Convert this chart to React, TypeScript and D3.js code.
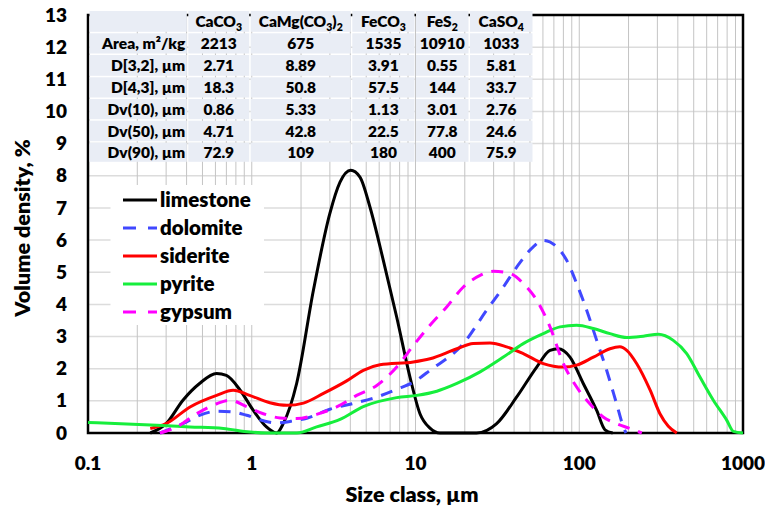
import React from "react";
import * as d3 from "d3";

// ---------- data ----------
const limestoneX = [0.24, 0.3, 0.38, 0.48, 0.61, 0.7, 0.85, 1.02, 1.23, 1.42, 1.56, 1.88, 2.38, 3.0, 3.46, 4.02, 4.58, 5.27, 6.36, 7.68, 9.25, 10.65, 12.26, 14.1, 23.6, 31.3, 41.5, 55, 66.3, 74.5, 87.8, 105.8, 127.8, 143.6, 160];
const limestoneY = [0, 0.29, 1.02, 1.54, 1.85, 1.79, 1.33, 0.71, 0.19, 0, 0.3, 1.54, 4.44, 6.83, 7.8, 8.17, 7.96, 7.03, 5.37, 3.6, 1.74, 0.6, 0.15, 0, 0, 0.29, 1.12, 2.05, 2.57, 2.62, 2.36, 1.54, 0.7, 0.1, 0];

const dolomiteX = [0.275, 0.38, 0.48, 0.62, 0.78, 0.93, 1.18, 1.42, 1.71, 2.17, 3.0, 4.17, 5.8, 7.68, 10.0, 12.26, 19.6, 27.2, 34.4, 41.5, 52.4, 60.3, 72.8, 83.8, 96.4, 111, 127.8, 147, 169, 186, 193];
const dolomiteY = [0, 0.29, 0.55, 0.68, 0.65, 0.55, 0.38, 0.31, 0.36, 0.46, 0.74, 0.92, 1.12, 1.36, 1.62, 1.95, 2.78, 3.82, 4.54, 5.16, 5.79, 5.99, 5.79, 5.37, 4.65, 3.82, 2.88, 1.95, 0.91, 0.19, 0];

const sideriteX = [0.24, 0.3, 0.42, 0.61, 0.77, 0.97, 1.29, 1.64, 2.07, 2.74, 3.8, 4.8, 6.07, 9.7, 12.26, 17.9, 22.5, 28.5, 36, 45.5, 60.3, 80, 96.4, 122, 154, 177, 195, 224, 271, 311, 350, 394];
const sideriteY = [0.14, 0.29, 0.81, 1.17, 1.33, 1.17, 0.94, 0.86, 0.93, 1.23, 1.62, 1.95, 2.12, 2.21, 2.31, 2.62, 2.78, 2.8, 2.68, 2.47, 2.16, 2.05, 2.11, 2.36, 2.62, 2.68, 2.57, 2.16, 1.33, 0.6, 0.21, 0];

const pyriteX = [0.1, 0.263, 0.42, 0.67, 0.975, 1.23, 1.88, 2.49, 3.46, 4.8, 7.68, 10.2, 13.5, 17.9, 24.8, 34.4, 45.5, 60.3, 76.3, 96.4, 122, 154, 195, 246, 304, 375, 453, 546, 659, 795, 873, 1000];
const pyriteY = [0.33, 0.24, 0.19, 0.14, 0.03, 0, 0, 0.19, 0.42, 0.82, 1.1, 1.17, 1.3, 1.54, 1.9, 2.36, 2.78, 3.09, 3.3, 3.35, 3.25, 3.09, 2.97, 3.01, 3.07, 2.88, 2.47, 1.74, 1.02, 0.4, 0.05, 0];

const gypsumX = [0.275, 0.348, 0.461, 0.611, 0.736, 0.931, 1.176, 1.488, 1.88, 2.49, 3.3, 4.37, 5.8, 7.68, 9.7, 12.26, 15.5, 19.6, 24.8, 29.9, 37.8, 45.5, 55, 66.3, 80, 96.4, 116, 140, 169, 204, 241];
const gypsumY = [0, 0.19, 0.6, 0.91, 1.02, 0.82, 0.6, 0.47, 0.45, 0.58, 0.81, 1.17, 1.48, 2.05, 2.72, 3.35, 3.92, 4.54, 4.9, 5.03, 4.96, 4.65, 4.13, 3.3, 2.16, 1.43, 0.91, 0.5, 0.29, 0.14, 0];

const seriesNames = ["limestone", "dolomite", "siderite", "pyrite", "gypsum"];

const xTickValues = [0.1, 1, 10, 100, 1000];
const xTickLabels = ["0.1", "1", "10", "100", "1000"];
const yTickValues = [0, 1, 2, 3, 4, 5, 6, 7, 8, 9, 10, 11, 12, 13];

// table
const tableHeaders: [string, string][][] = [
  [["CaCO", ""], ["3", "sub"]],
  [["CaMg(CO", ""], ["3", "sub"], [")", ""], ["2", "sub"]],
  [["FeCO", ""], ["3", "sub"]],
  [["FeS", ""], ["2", "sub"]],
  [["CaSO", ""], ["4", "sub"]],
];
const tableRowLabels = ["Area, m²/kg", "D[3,2], µm", "D[4,3], µm", "Dv(10), µm", "Dv(50), µm", "Dv(90), µm"];
const caco3Values = ["2213", "2.71", "18.3", "0.86", "4.71", "72.9"];
const camgValues = ["675", "8.89", "50.8", "5.33", "42.8", "109"];
const feco3Values = ["1535", "3.91", "57.5", "1.13", "22.5", "180"];
const fes2Values = ["10910", "0.55", "144", "3.01", "77.8", "400"];
const caso4Values = ["1033", "5.81", "33.7", "2.76", "24.6", "75.9"];

// ---------- layout ----------
const W = 765, H = 508;
const L = 88, R = 743, T = 15, B = 433;
const FONT = "Lato, Carlito, Calibri, 'Open Sans', sans-serif";
const WEIGHT = 800;

const colW = [89.5, 188.3, 250.7, 352.3, 416, 470, 534];
const rowH = [11, 33.3, 55, 77.3, 99, 120.7, 142.7, 163.3];

export default function App() {
  const x = d3.scaleLog().domain([0.1, 1000]).range([L, R]);
  const y = d3.scaleLinear().domain([0, 13]).range([B, T]);

  const series = [
    { name: seriesNames[0], xs: limestoneX, ys: limestoneY, color: "#000000", dash: "" },
    { name: seriesNames[1], xs: dolomiteX, ys: dolomiteY, color: "#4048ff", dash: "12,9" },
    { name: seriesNames[2], xs: sideriteX, ys: sideriteY, color: "#ff0000", dash: "" },
    { name: seriesNames[3], xs: pyriteX, ys: pyriteY, color: "#16ee3c", dash: "" },
    { name: seriesNames[4], xs: gypsumX, ys: gypsumY, color: "#ff00ff", dash: "12,9" },
  ];

  const line = d3
    .line<[number, number]>()
    .x((d) => x(d[0]))
    .y((d) => y(d[1]))
    .curve(d3.curveMonotoneX);

  const minor: number[] = [];
  for (let e = -1; e <= 2; e++) {
    for (let m = 1; m <= 9; m++) {
      const v = m * Math.pow(10, e);
      if (v > 0.1 && v < 1000) minor.push(v);
    }
  }

  const columns = [caco3Values, camgValues, feco3Values, fes2Values, caso4Values];

  return (
    <svg
      width={W}
      height={H}
      style={{ position: "absolute", left: 0, top: 0, background: "#fff" }}
      fontFamily={FONT}
      fontWeight={WEIGHT}
    >
      <rect x={0} y={0} width={W} height={H} fill="#fff" />
      {/* grid */}
      {yTickValues.slice(1, -1).map((v) => (
        <line key={"h" + v} x1={L} x2={R} y1={y(v)} y2={y(v)} stroke="#dcdcdc" strokeWidth={1.5} />
      ))}
      {minor.map((v) => (
        <line key={"v" + v} x1={x(v)} x2={x(v)} y1={T} y2={B} stroke="#c4c4c4" strokeWidth={1} />
      ))}
      {/* frame */}
      <rect x={L} y={T} width={R - L} height={B - T} fill="none" stroke="#000" strokeWidth={2.5} />

      {/* table */}
      {colW.slice(0, -1).map((cx, ci) =>
        rowH.slice(0, -1).map((ry, ri) => (
          <rect
            key={`c${ci}-${ri}`}
            x={cx}
            y={ry}
            width={colW[ci + 1] - cx - 1.5}
            height={rowH[ri + 1] - ry - 1.5}
            fill="#e9edf5"
          />
        ))
      )}
      {tableHeaders.map((parts, ci) => (
        <text
          key={"hd" + ci}
          x={(colW[ci + 1] + colW[ci + 2] - 1.5) / 2}
          y={(rowH[0] + rowH[1]) / 2 + 5}
          textAnchor="middle"
          fontSize={15.5}
          fill="#000"
        >
          {parts.map(([t, k], pi) =>
            k === "sub" ? (
              <tspan key={pi} fontSize={10.5} dy={4}>
                {t}
              </tspan>
            ) : (
              <tspan key={pi} dy={pi > 0 && parts[pi - 1][1] === "sub" ? -4 : 0}>
                {t}
              </tspan>
            )
          )}
        </text>
      ))}
      {tableRowLabels.map((lab, ri) => (
        <text
          key={"rl" + ri}
          x={colW[1] - 3}
          y={(rowH[ri + 1] + rowH[ri + 2]) / 2 + 5}
          textAnchor="end"
          fontSize={15.5}
          fill="#000"
        >
          {lab}
        </text>
      ))}
      {columns.map((vals, ci) =>
        vals.map((v, ri) => (
          <text
            key={`tv${ci}-${ri}`}
            x={(colW[ci + 1] + colW[ci + 2] - 1.5) / 2}
            y={(rowH[ri + 1] + rowH[ri + 2]) / 2 + 5}
            textAnchor="middle"
            fontSize={15.5}
            fill="#000"
          >
            {v}
          </text>
        ))
      )}

      {/* legend */}
      <rect x={110.5} y={185} width={153.5} height={140} fill="#fff" />
      {series.map((s, i) => (
        <g key={"lg" + i} transform={`translate(0, ${200 + i * 28})`}>
          <line x1={123} x2={157} y1={0} y2={0} stroke={s.color} strokeWidth={3} strokeDasharray={s.dash ? "13,12" : undefined} />
          <text x={160} y={0} dy="0.35em" fontSize={20.5} fill="#000">
            {s.name}
          </text>
        </g>
      ))}

      {/* curves */}
      {series.map((s, i) => (
        <path
          key={"s" + i}
          d={line(s.xs.map((xv, j) => [xv, s.ys[j]] as [number, number])) || ""}
          fill="none"
          stroke={s.color}
          strokeWidth={3}
          strokeDasharray={s.dash || undefined}
          strokeLinejoin="round"
        />
      ))}

      {/* axis tick labels */}
      {yTickValues.map((v) => (
        <text key={"yt" + v} x={67} y={y(v)} dy="0.35em" textAnchor="end" fontSize={19} fill="#000">
          {v}
        </text>
      ))}
      {xTickValues.map((v, i) => (
        <text key={"xt" + v} x={x(v)} y={463} dy="0.35em" textAnchor="middle" fontSize={19} fill="#000">
          {xTickLabels[i]}
        </text>
      ))}
      <text x={412} y={494} dy="0.35em" textAnchor="middle" fontSize={21.5} fill="#000">
        Size class, µm
      </text>
      <text
        transform={`translate(22, ${228}) rotate(-90)`}
        dy="0.35em"
        textAnchor="middle"
        fontSize={21.5}
        fill="#000"
      >
        Volume density, %
      </text>
    </svg>
  );
}
